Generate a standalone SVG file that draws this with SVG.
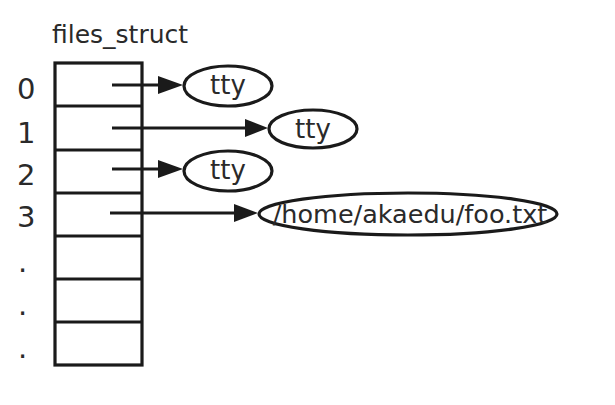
<svg xmlns="http://www.w3.org/2000/svg" width="615" height="405" viewBox="0 0 615 405">
<style>
.t{font-family:"DejaVu Sans",sans-serif;fill:#2a2a2a}
.s{fill:none;stroke:#1a1a1a;stroke-width:3.2}
.e{fill:#fff;stroke:#1a1a1a;stroke-width:3.2}
.a{fill:none;stroke:#1a1a1a;stroke-width:3.2}
.h{fill:#1a1a1a}
</style>
<rect width="615" height="405" fill="#fff"/>
<g id="files_struct">
<text class="t" x="52" y="43" font-size="25">files_struct</text>
<rect class="s" x="55" y="63" width="87" height="302"/>
<path class="s" d="M55 106H142M55 150H142M55 193H142M55 236H142M55 279H142M55 322H142"/>
<g font-size="29">
<text class="t" x="17" y="99">0</text>
<text class="t" x="17" y="143">1</text>
<text class="t" x="17" y="185">2</text>
<text class="t" x="17" y="227">3</text>
<text class="t" x="18" y="272">.</text>
<text class="t" x="18" y="315">.</text>
<text class="t" x="18" y="358">.</text>
</g>
</g>
<g id="connectors">
<line class="a" x1="112" y1="85" x2="160" y2="85"/>
<polygon class="h" points="158,76 183,85 158,94"/>
<line class="a" x1="112" y1="128" x2="247" y2="128"/>
<polygon class="h" points="245,119 268,128 245,137"/>
<line class="a" x1="112" y1="169" x2="160" y2="169"/>
<polygon class="h" points="158,160 183,169 158,178"/>
<line class="a" x1="110" y1="213" x2="236" y2="213"/>
<polygon class="h" points="234,204 258,213 234,222"/>
</g>
<g id="tty0">
<ellipse class="e" cx="228" cy="86" rx="44" ry="20"/>
<text class="t" x="228" y="94" font-size="26" text-anchor="middle">tty</text>
</g>
<g id="tty1">
<ellipse class="e" cx="313" cy="129" rx="44" ry="19"/>
<text class="t" x="313" y="138" font-size="26" text-anchor="middle">tty</text>
</g>
<g id="tty2">
<ellipse class="e" cx="228" cy="171" rx="44" ry="20"/>
<text class="t" x="228" y="179" font-size="26" text-anchor="middle">tty</text>
</g>
<g id="file">
<ellipse class="e" cx="408" cy="214" rx="149" ry="21"/>
<text class="t" x="410" y="223" font-size="25.5" text-anchor="middle">/home/akaedu/foo.txt</text>
</g>
</svg>
